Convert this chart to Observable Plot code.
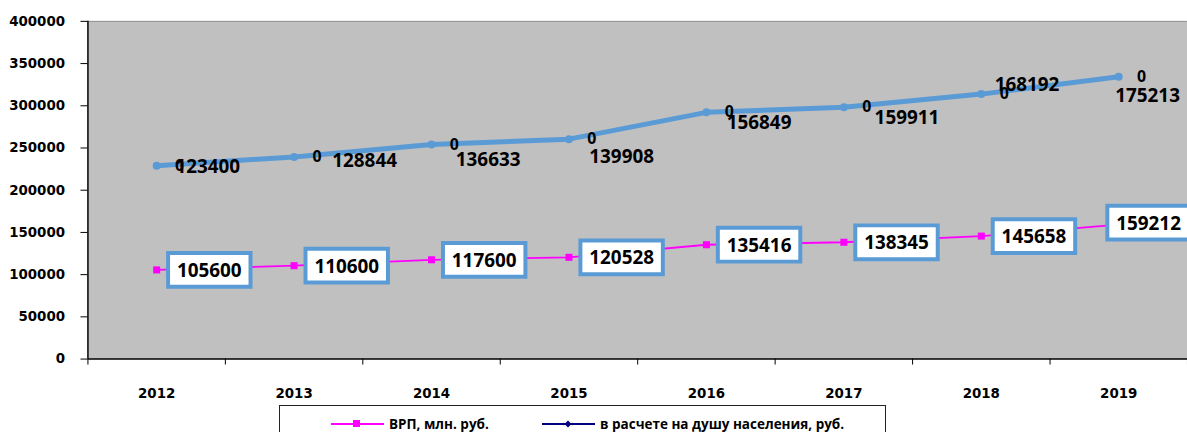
<!DOCTYPE html>
<html>
<head>
<meta charset="utf-8">
<script src="https://cdn.jsdelivr.net/npm/d3@7"></script>
<script src="https://cdn.jsdelivr.net/npm/@observablehq/plot@0.6"></script>
<style>
  html, body { margin: 0; padding: 0; background: #fff; }
  #wrap { width: 1187px; height: 432px; overflow: hidden; position: relative; }
  #legend { position: absolute; left: 279px; top: 405px; width: 607px; height: 40px;
            border: 1px solid #222; box-sizing: border-box; background: #fff;
            font-family: "Open Sans", sans-serif; font-weight: 700; font-size: 13.5px; color: #000; }
  .item { position: absolute; top: 8px; display: flex; align-items: center; white-space: nowrap; }
  .item svg { margin-right: 5px; }
</style>
</head>
<body>
<div id="wrap">
  <div id="chart"></div>
  <div id="legend"></div>
</div>
<script>
// ---- data ----
const years = ["2012", "2013", "2014", "2015", "2016", "2017", "2018", "2019"];
const grp = [105600, 110600, 117600, 120528, 135416, 138345, 145658, 159212];       // ВРП, млн. руб.
const perCapita = [123400, 128844, 136633, 139908, 156849, 159911, 168192, 175213]; // в расчете на душу населения, руб.
const zeroLabels = ["0", "0", "0", "0", "0", "0", "0", "0"];
const yTicks = [0, 50000, 100000, 150000, 200000, 250000, 300000, 350000, 400000];
const seriesNames = ["ВРП, млн. руб.", "в расчете на душу населения, руб."];

// ---- layout (label nudges in pixels) ----
const valueNudge = [[51.5, 1], [71, 4], [57, 16], [53, 17.5], [53, 10.5], [63.5, 11], [46, -9], [29, 19]];
const boxNudge = [[53, 0], [53, 0], [53, 0], [53, 0], [53, 0], [53, 0], [53, 0], [30, -2]];

const idx = years.map((_, i) => i);
const stacked = i => grp[i] + perCapita[i];

const boxSymbol = { draw(ctx) { ctx.rect(-41.5, -17, 83, 34); } };

const pinkBoxes = idx.flatMap(i => [
  Plot.dot([i], { x: d => d, y: d => grp[d], symbol: boxSymbol, r: 10, fill: "#fff",
                  stroke: "#5b9bd5", strokeWidth: 4, dx: boxNudge[i][0], dy: boxNudge[i][1] }),
  Plot.text([i], { x: d => d, y: d => grp[d], text: d => String(grp[d]), fontSize: 19,
                   fontWeight: 700, fill: "#000", dx: boxNudge[i][0], dy: boxNudge[i][1] + 1 })
]);

const blueLabels = idx.map(i =>
  Plot.text([i], { x: d => d, y: d => stacked(d), text: d => String(perCapita[d]), fontSize: 19,
                   fontWeight: 700, fill: "#000", dx: valueNudge[i][0], dy: valueNudge[i][1] })
);

const chart = Plot.plot({
  width: 1195,
  height: 402,
  marginLeft: 88,
  marginRight: 0,
  marginTop: 21,
  marginBottom: 41,
  style: { fontFamily: "'Open Sans', sans-serif", background: "#fff", overflow: "visible" },
  x: { type: "linear", domain: [-0.5, 7.5] },
  y: { domain: [0, 400000] },
  marks: [
    Plot.frame({ fill: "#c0c0c0", stroke: null }),
    Plot.ruleY([400000], { stroke: "#8c8c8c", strokeWidth: 1 }),
    // y axis
    Plot.axisY({ ticks: yTicks, tickFormat: d => String(d), tickSize: 7, tickPadding: 16,
                 fontSize: 13.5, fontWeight: 700, fontFamily: "DejaVu Sans", stroke: "#000", fill: "#000" }),
    // x axis: boundary ticks and centred labels
    Plot.axisX({ ticks: d3.range(-0.5, 8, 1), tickFormat: () => "", tickSize: 6, stroke: "#000" }),
    Plot.axisX({ ticks: idx, tickFormat: i => years[i], tickSize: 0, tickPadding: 30,
                 fontSize: 13.5, fontWeight: 700, fontFamily: "DejaVu Sans", fill: "#000" }),
    Plot.ruleX([-0.5], { stroke: "#000", strokeWidth: 1.5 }),
    Plot.ruleY([0], { stroke: "#000", strokeWidth: 1.5 }),
    // per-capita (stacked on top of GRP)
    Plot.line(idx, { x: d => d, y: d => stacked(d), stroke: "#5b9bd5", strokeWidth: 5, curve: "linear" }),
    Plot.dot(idx, { x: d => d, y: d => stacked(d), r: 4, fill: "#5b9bd5" }),
    // GRP
    Plot.line(idx, { x: d => d, y: d => grp[d], stroke: "#ff00ff", strokeWidth: 1.8 }),
    Plot.dot(idx, { x: d => d, y: d => grp[d], symbol: "square", r: 4, fill: "#ff00ff" }),
    // labels
    Plot.text(idx, { x: d => d, y: d => stacked(d), text: d => zeroLabels[d], fontSize: 16,
                     fontWeight: 700, fill: "#000", dx: 23, dy: 0 }),
    ...blueLabels,
    ...pinkBoxes
  ]
});
document.getElementById("chart").appendChild(chart);

// ---- legend ----
const legend = document.getElementById("legend");
function item(left, color, marker, label) {
  const div = document.createElement("div");
  div.className = "item";
  div.style.left = left + "px";
  const m = marker === "square"
    ? `<rect x="22" y="6" width="7" height="7" fill="${color}"/>`
    : `<path d="M26 6.5 L29.5 10 L26 13.5 L22.5 10 Z" fill="${color}"/>`;
  div.innerHTML = `<svg width="53" height="20"><line x1="0" x2="53" y1="10" y2="10" stroke="${color}" stroke-width="2"/>${m}</svg><span>${label}</span>`;
  legend.appendChild(div);
}
item(51, "#ff00ff", "square", seriesNames[0]);
item(262, "#000080", "diamond", seriesNames[1]);
</script>
</body>
</html>
